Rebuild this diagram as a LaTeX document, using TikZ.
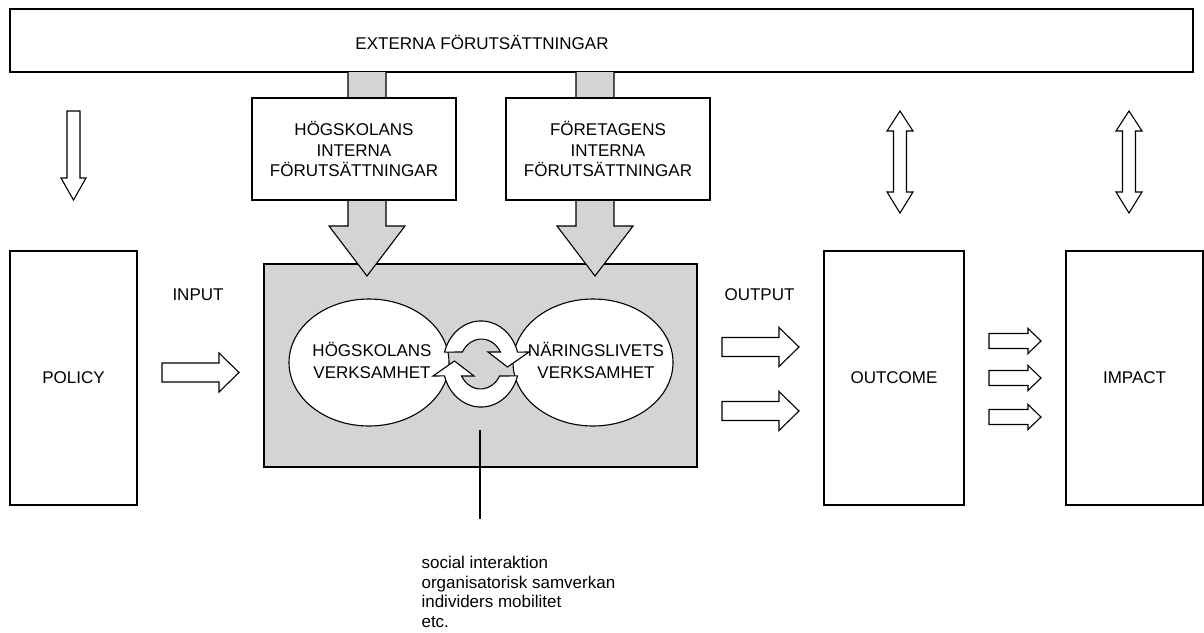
\documentclass[tikz,border=0pt]{standalone}
\usepackage{fontspec}
\setmainfont{Liberation Sans}
\usetikzlibrary{shapes.geometric}
\definecolor{boxgray}{RGB}{212,212,212}

\begin{document}
\begin{tikzpicture}
  [x=1pt,y=-1pt,line width=1.1pt,
   every node/.style={font=\fontsize{17}{20.5}\selectfont,inner sep=0pt},
   box/.style={draw,fill=white,rectangle,align=center},
   oval/.style={draw,fill=white,ellipse,minimum width=160pt,minimum height=127pt},
   hollow/.style={draw,fill=white,line join=miter},
   bigarrow/.style={draw,fill=boxgray}]
  \useasboundingbox (0,0) rectangle (1204,632);

  \node[box,minimum width=1183pt,minimum height=63pt] (ext) at (601.5,40.5) {};
  \node (extlabel) at (482,42) {EXTERNA FÖRUTSÄTTNINGAR};

  \node[box,fill=boxgray,minimum width=433pt,minimum height=203pt] (verk) at (480.5,365.5) {};

  \foreach \x in {367,595}
    \draw[bigarrow] (\x-19,72) -- (\x-19,226) -- (\x-38,226) -- (\x,276) -- (\x+38,226) -- (\x+19,226) -- (\x+19,72);

  \node[box,minimum width=204pt,minimum height=102pt] (hint) at (354,149) {HÖGSKOLANS\\INTERNA\\FÖRUTSÄTTNINGAR};
  \node[box,minimum width=204pt,minimum height=102pt] (fint) at (608,149) {FÖRETAGENS\\INTERNA\\FÖRUTSÄTTNINGAR};

  \node[oval] (hv) at (369,362.5) {};
  \node[oval] (nv) at (593,362.5) {};

  \foreach \r in {0,180}
    \draw[hollow,rotate around={\r:(481,364)}] (444.5,352.1)
      arc[start angle=196,end angle=344,x radius=38,y radius=43]
      -- (529,352) -- (507.5,367) -- (488,352) -- (500.5,352)
      arc[start angle=330,end angle=210,x radius=22,y radius=26] -- cycle;

  \node[align=center,font=\fontsize{17}{22.4}\selectfont] (hvlabel) at (372,360.5) {HÖGSKOLANS\\VERKSAMHET};
  \node[align=center,font=\fontsize{17}{22.4}\selectfont] (nvlabel) at (596,360.5) {NÄRINGSLIVETS\\VERKSAMHET};

  \node[box,minimum width=127pt,minimum height=254pt] (policy) at (73.5,378) {POLICY};
  \node[box,minimum width=140pt,minimum height=254pt] (outcome) at (894,378) {OUTCOME};
  \node[box,minimum width=137pt,minimum height=254pt] (impact) at (1134.5,378) {IMPACT};

  \node (input) at (198,295) {INPUT};
  \node (output) at (759.5,295) {OUTPUT};

  \foreach \x/\y in {162/372.5,722/347,722/411}
    \draw[hollow] (\x,\y-9.5) -- ++(57,0) -- ++(0,-10) -- ++(20,19.5) -- ++(-20,19.5) -- ++(0,-10) -- ++(-57,0) -- cycle;

  \foreach \y in {341,378,417}
    \draw[hollow] (989,\y-7.5) -- ++(39,0) -- ++(0,-5) -- ++(13,12.5) -- ++(-13,12.5) -- ++(0,-5) -- ++(-39,0) -- cycle;

  \draw[hollow] (67,111) -- (80,111) -- (80,178) -- (86,178) -- (73.5,200) -- (61,178) -- (67,178) -- cycle;

  \foreach \x in {900,1129}
    \draw[hollow] (\x,111) -- (\x+13,131) -- (\x+6.5,131) -- (\x+6.5,192) -- (\x+13,192) -- (\x,213)
      -- (\x-13,192) -- (\x-6.5,192) -- (\x-6.5,131) -- (\x-13,131) -- cycle;

  \coordinate (linetop) at (480,430);
  \coordinate (lineend) at (480,519);
  \draw (linetop) -- (lineend);

  \node[anchor=north west,align=left,font=\fontsize{17}{19.4}\selectfont] (mech) at (421,556)
    {social interaktion\\organisatorisk samverkan\\individers mobilitet\\etc.};

 \end{tikzpicture}
\end{document}
